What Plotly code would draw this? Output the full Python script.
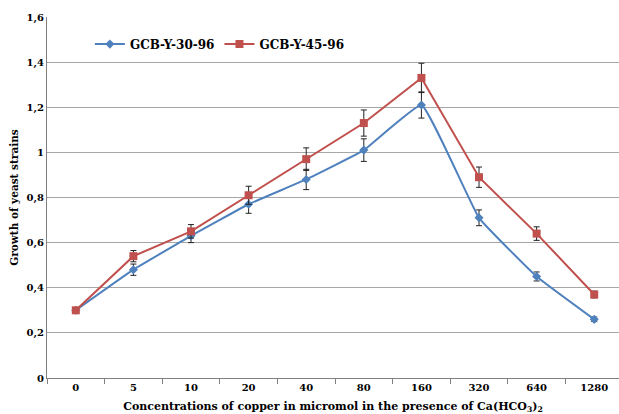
import plotly.graph_objects as go

categories = ["0", "5", "10", "20", "40", "80", "160", "320", "640", "1280"]
blue_vals = [0.30, 0.48, 0.63, 0.77, 0.88, 1.01, 1.21, 0.71, 0.45, 0.26]
blue_err = [0.01, 0.025, 0.03, 0.04, 0.045, 0.05, 0.058, 0.035, 0.02, 0.01]
red_vals = [0.30, 0.54, 0.65, 0.81, 0.97, 1.13, 1.33, 0.89, 0.64, 0.37]
red_err = [0.01, 0.025, 0.03, 0.04, 0.05, 0.058, 0.065, 0.045, 0.03, 0.015]
y_ticks = [0, 0.2, 0.4, 0.6, 0.8, 1.0, 1.2, 1.4, 1.6]
y_labels = ["0", "0,2", "0,4", "0,6", "0,8", "1", "1,2", "1,4", "1,6"]

FONT = "DejaVu Serif"

fig = go.Figure()
fig.add_trace(go.Scatter(
    x=categories, y=blue_vals, name="GCB-Y-30-96", mode="lines+markers",
    line=dict(color="#4f81bd", width=2, shape="spline", smoothing=0.3),
    marker=dict(symbol="diamond", size=7, color="#4f81bd"),
    error_y=dict(type="data", array=blue_err, color="#222222", thickness=1, width=3),
))
fig.add_trace(go.Scatter(
    x=categories, y=red_vals, name="GCB-Y-45-96", mode="lines+markers",
    line=dict(color="#c0504d", width=2),
    marker=dict(symbol="square", size=8, color="#c0504d"),
    error_y=dict(type="data", array=red_err, color="#222222", thickness=1, width=3),
))

fig.update_layout(
    width=619, height=414,
    margin=dict(l=47, r=0, t=17, b=36),
    paper_bgcolor="white", plot_bgcolor="white",
    font=dict(family=FONT, color="#000000"),
    legend=dict(orientation="h", x=0.075, y=0.925, xanchor="left", yanchor="middle",
                font=dict(family=FONT, size=12, color="#000000", weight="bold"),
                bgcolor="rgba(0,0,0,0)", itemwidth=30),
    showlegend=True,
)
fig.update_xaxes(
    type="category", range=[-0.5, 9.43],
    tickson="boundaries", ticks="outside", ticklen=5, tickcolor="#808080",
    showline=True, linecolor="#808080", linewidth=1,
    showgrid=False,
    tickfont=dict(family=FONT, size=10, color="#000000", weight="bold"),
    title=dict(text="Concentrations of copper in micromol in the presence of Ca(HCO<sub>3</sub>)<sub>2</sub>",
               font=dict(family=FONT, size=11, color="#000000", weight="bold"), standoff=10),
)
fig.update_yaxes(
    range=[0, 1.6], tickvals=y_ticks, ticktext=y_labels,
    showgrid=True, gridcolor="#a6a6a6", gridwidth=1,
    showline=True, linecolor="#808080", linewidth=1,
    ticks="", zeroline=False,
    tickfont=dict(family=FONT, size=10, color="#000000", weight="bold"),
    title=dict(text="Growth of yeast strains",
               font=dict(family=FONT, size=10.5, color="#000000", weight="bold"), standoff=5),
)

fig.write_html("out.html")
